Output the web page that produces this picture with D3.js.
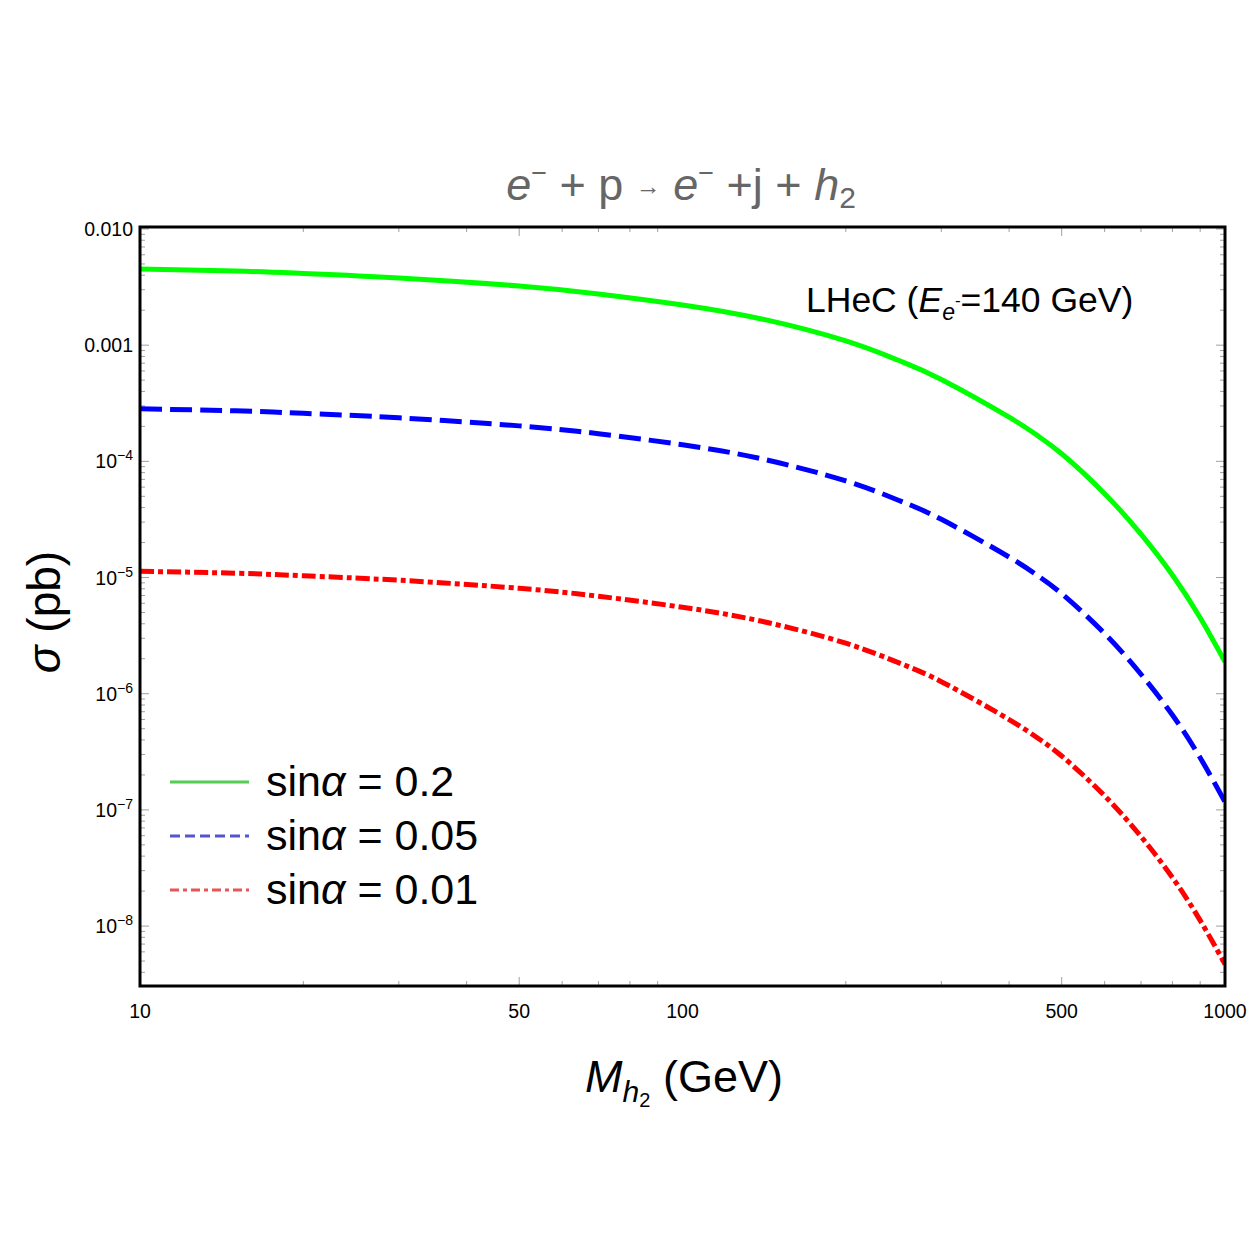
<!DOCTYPE html>
<html>
<head>
<meta charset="utf-8">
<script src="https://cdn.jsdelivr.net/npm/d3@7/dist/d3.min.js"></script>
<style>
  body { margin: 0; background: #fff; }
  text { font-family: "Liberation Sans", Arial, sans-serif; }
</style>
</head>
<body>
<div id="chart"></div>
<script>
// Data
const masses = [10, 15, 20, 30, 50, 70, 100, 140, 200, 250, 300, 400, 450, 500, 600, 700, 800, 900, 1000];
const sigma02 = [4.53e-3, 4.35e-3, 4.14e-3, 3.79e-3, 3.23e-3, 2.76e-3, 2.22e-3, 1.68e-3, 1.087e-3, 7.41e-4,
                 5.07e-4, 2.40e-4, 1.68e-4, 1.162e-4, 5.27e-5, 2.36e-5, 1.05e-5, 4.50e-6, 1.878e-6];
const sigma005 = [2.83e-4, 2.72e-4, 2.59e-4, 2.37e-4, 2.02e-4, 1.73e-4, 1.39e-4, 1.05e-4, 6.79e-5, 4.63e-5,
                  3.17e-5, 1.50e-5, 1.05e-5, 7.26e-6, 3.29e-6, 1.47e-6, 6.56e-7, 2.81e-7, 1.17e-7];
const sigma001 = [1.13e-5, 1.09e-5, 1.035e-5, 9.48e-6, 8.08e-6, 6.9e-6, 5.55e-6, 4.2e-6, 2.72e-6, 1.85e-6,
                  1.27e-6, 5.99e-7, 4.2e-7, 2.91e-7, 1.32e-7, 5.9e-8, 2.62e-8, 1.12e-8, 4.7e-9];
const seriesLabels = ['0.2', '0.05', '0.01'];
const xTickLabels = [10, 50, 100, 500, 1000];
const yTickLabels = [
  { v: 1e-2, base: '0.010', exp: '' },
  { v: 1e-3, base: '0.001', exp: '' },
  { v: 1e-4, base: '10', exp: '\u22124' },
  { v: 1e-5, base: '10', exp: '\u22125' },
  { v: 1e-6, base: '10', exp: '\u22126' },
  { v: 1e-7, base: '10', exp: '\u22127' },
  { v: 1e-8, base: '10', exp: '\u22128' }
];

// Layout
const W = 1250, H = 1250;
const margin = { top: 227, right: 25, bottom: 264, left: 140 };
const width = W - margin.left - margin.right;
const height = H - margin.top - margin.bottom;

const svg = d3.select('#chart').append('svg')
  .attr('width', W)
  .attr('height', H);

const g = svg.append('g')
  .attr('transform', `translate(${margin.left}, ${margin.top})`);

const xScale = d3.scaleLog().domain([10, 1000]).range([0, width]);
const yScale = d3.scaleLog().domain([3.05e-9, 1.04e-2]).range([height, 0]);

// Minor / major ticks (inside, on all four sides)
const xMinor = [];
[10, 100].forEach(d => { for (let k = 2; k <= 9; k++) xMinor.push(d * k); });
const yMajor = [1e-2, 1e-3, 1e-4, 1e-5, 1e-6, 1e-7, 1e-8];
const yMinor = [];
[1e-9, 1e-8, 1e-7, 1e-6, 1e-5, 1e-4, 1e-3].forEach(d => {
  for (let k = 2; k <= 9; k++) {
    const v = d * k;
    if (v > yScale.domain()[0] && v < yScale.domain()[1]) yMinor.push(v);
  }
});

const tickColor = '#a0a0a0';
const ticks = g.append('g').attr('stroke', tickColor).attr('stroke-width', 1);
xMinor.forEach(v => {
  const major = xTickLabels.includes(v);
  const len = major ? 9 : 5;
  ticks.append('line').attr('x1', xScale(v)).attr('x2', xScale(v)).attr('y1', height).attr('y2', height - len);
  ticks.append('line').attr('x1', xScale(v)).attr('x2', xScale(v)).attr('y1', 0).attr('y2', len);
});
yMajor.forEach(v => {
  ticks.append('line').attr('x1', 0).attr('x2', 9).attr('y1', yScale(v)).attr('y2', yScale(v));
  ticks.append('line').attr('x1', width).attr('x2', width - 9).attr('y1', yScale(v)).attr('y2', yScale(v));
});
yMinor.forEach(v => {
  ticks.append('line').attr('x1', 0).attr('x2', 5).attr('y1', yScale(v)).attr('y2', yScale(v));
  ticks.append('line').attr('x1', width).attr('x2', width - 5).attr('y1', yScale(v)).attr('y2', yScale(v));
});

// Curves
const series = [
  { vals: sigma02, color: '#00ff00', dash: null },
  { vals: sigma005, color: '#0000ff', dash: '22,8' },
  { vals: sigma001, color: '#ff0000', dash: '14,4,5,4' }
];
const line = d3.line()
  .x(d => xScale(d[0]))
  .y(d => yScale(d[1]))
  .curve(d3.curveNatural);

g.append('clipPath').attr('id', 'clip')
  .append('rect').attr('width', width).attr('height', height);

series.forEach(s => {
  g.append('path')
    .datum(masses.map((m, i) => [m, s.vals[i]]))
    .attr('d', line)
    .attr('fill', 'none')
    .attr('stroke', s.color)
    .attr('stroke-width', 5)
    .attr('stroke-dasharray', s.dash)
    .attr('clip-path', 'url(#clip)');
});

// Frame
g.append('rect')
  .attr('width', width).attr('height', height)
  .attr('fill', 'none').attr('stroke', '#000').attr('stroke-width', 3);

// X tick labels
g.selectAll('.xlab').data(xTickLabels).enter().append('text')
  .attr('x', d => xScale(d))
  .attr('y', height + 32)
  .attr('text-anchor', 'middle')
  .attr('font-size', 19.5)
  .text(d => d);

// Y tick labels
yTickLabels.forEach(t => {
  const txt = g.append('text')
    .attr('x', -7)
    .attr('y', yScale(t.v) + 7)
    .attr('text-anchor', 'end')
    .attr('font-size', 19.5);
  txt.append('tspan').text(t.base);
  if (t.exp) txt.append('tspan').attr('font-size', 14).attr('dy', -8).text(t.exp);
});

// Title
const title = svg.append('text')
  .attr('x', 681).attr('y', 200)
  .attr('text-anchor', 'middle')
  .attr('font-size', 45)
  .attr('fill', '#666');
title.append('tspan').attr('font-style', 'italic').text('e');
title.append('tspan').attr('font-size', 27).attr('dy', -18).text('\u2212');
title.append('tspan').attr('dy', 18).text(' + p ');
title.append('tspan').attr('font-size', 25).attr('dy', -5).text('\u2192');
title.append('tspan').attr('dy', 5).attr('font-style', 'italic').text(' e');
title.append('tspan').attr('font-size', 27).attr('dy', -18).text('\u2212');
title.append('tspan').attr('dy', 18).text(' +j + ');
title.append('tspan').attr('font-style', 'italic').text('h');
title.append('tspan').attr('font-size', 30).attr('dy', 8).text('2');

// Annotation
const ann = g.append('text')
  .attr('x', 806 - margin.left).attr('y', 312 - margin.top)
  .attr('font-size', 35.5);
ann.append('tspan').text('LHeC (');
ann.append('tspan').attr('font-style', 'italic').text('E');
ann.append('tspan').attr('font-style', 'italic').attr('font-size', 23).attr('dy', 8).text('e');
ann.append('tspan').attr('font-size', 17).attr('dy', -14).text('-');
ann.append('tspan').attr('dy', 6).text('=140 GeV)');

// Y axis label
const ylab = svg.append('text')
  .attr('transform', 'translate(60, 612) rotate(-90)')
  .attr('text-anchor', 'middle')
  .attr('font-size', 46);
ylab.append('tspan').attr('font-style', 'italic').text('\u03c3');
ylab.append('tspan').text(' (pb)');

// X axis label
const xlab = svg.append('text')
  .attr('x', 684).attr('y', 1092)
  .attr('text-anchor', 'middle')
  .attr('font-size', 45);
xlab.append('tspan').attr('font-style', 'italic').text('M');
xlab.append('tspan').attr('font-style', 'italic').attr('font-size', 30).attr('dy', 10).text('h');
xlab.append('tspan').attr('font-size', 20).attr('dy', 5).text('2');
xlab.append('tspan').attr('dy', -15).text('  (GeV)');

// Legend
const legend = g.append('g');
const legColors = ['#55cc55', '#5555cc', '#e85555'];
const legDash = [null, '10,5', '9,4,4,4'];
seriesLabels.forEach((lab, i) => {
  const y = 782 - margin.top + i * 54;
  legend.append('line')
    .attr('x1', 170 - margin.left).attr('x2', 249 - margin.left)
    .attr('y1', y).attr('y2', y)
    .attr('stroke', legColors[i]).attr('stroke-width', 3)
    .attr('stroke-dasharray', legDash[i]);
  const t = legend.append('text')
    .attr('x', 266 - margin.left).attr('y', y + 14)
    .attr('font-size', 43);
  t.append('tspan').text('sin');
  t.append('tspan').attr('font-style', 'italic').text('\u03b1');
  t.append('tspan').text(' = ' + lab);
});
</script>
</body>
</html>
